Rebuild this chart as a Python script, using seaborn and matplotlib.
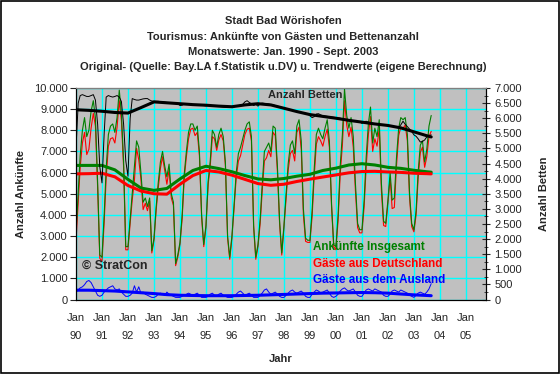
import numpy as np
import pandas as pd
import seaborn as sns
import matplotlib.pyplot as plt
import matplotlib.dates as mdates
from matplotlib.ticker import FuncFormatter, MultipleLocator
from matplotlib.patches import Rectangle

sns.set_style("white")
plt.rcParams['font.family'] = ['Liberation Sans', 'DejaVu Sans']

# Monatswerte Jan. 1990 - Sept. 2003
months = pd.date_range("1990-01-01", "2003-09-01", freq="MS")

insgesamt = [
    3100, 5000, 6800, 8000, 8600, 7700, 8000, 8900, 9400, 8600, 5500, 2100,
    2000, 4000, 6200, 7800, 8200, 8300, 7900, 8600, 9900, 8800, 6500, 2500,
    2500, 3800, 5000, 6300, 7500, 7200, 6000, 4600, 4800, 4400, 4800, 2300,
    2900, 4400, 5500, 6500, 7000, 6300, 5800, 6400, 5000, 4600, 1700, 2100,
    2700, 4000, 5900, 7000, 7900, 8300, 8300, 8000, 8200, 7000, 4000, 2600,
    3500, 5600, 6500, 8000, 7800, 7200, 7800, 8100, 7700, 6500, 3000, 2000,
    3000, 4500, 6000, 6900, 7200, 7600, 8000, 8300, 8400, 7700, 3500, 2000,
    2600, 3800, 5400, 7000, 7200, 7400, 7000, 8200, 8100, 6300, 3700, 2200,
    3500, 5000, 6400, 7300, 7500, 6900, 8200, 8500, 7500, 4300, 2900, 2800,
    2800, 4200, 6100, 7800, 8100, 7800, 7600, 8100, 8500, 7500, 4500, 2600,
    2500, 4000, 6300, 7800, 9950, 8700, 8100, 8600, 7700, 5500, 3600, 3300,
    3300, 4700, 6700, 8300, 9100, 7400, 8100, 7700, 8500, 5500, 3700, 3600,
    4700, 6000, 4700, 4800, 6700, 8100, 8600, 8500, 8600, 7800, 5000, 3600,
    3300, 4200, 6000, 7300, 7500, 6500, 7100, 8200, 8700,
]
deutschland = [
    2750, 4550, 6250, 7400, 7900, 6850, 7100, 8100, 8800, 8200, 5300, 1950,
    1800, 3650, 5750, 7250, 7600, 7650, 7400, 8150, 9400, 8450, 6250, 2350,
    2350, 3600, 4700, 5650, 7150, 6600, 5700, 4250, 4550, 4200, 4650, 2200,
    2800, 4250, 5250, 6200, 6750, 6100, 5450, 6150, 4800, 4450, 1600, 2000,
    2600, 3850, 5700, 6750, 7600, 8050, 8100, 7750, 7900, 6800, 3900, 2500,
    3400, 5450, 6250, 7700, 7600, 7050, 7550, 7800, 7500, 6350, 2900, 1900,
    2900, 4350, 5750, 6550, 6800, 7300, 7800, 8050, 8100, 7500, 3400, 1900,
    2500, 3600, 5100, 6550, 6700, 7050, 6750, 7900, 7750, 6050, 3550, 2100,
    3400, 4800, 6100, 6900, 7050, 6550, 7900, 8150, 7100, 4000, 2750, 2700,
    2700, 3950, 5750, 7350, 7700, 7500, 7250, 7700, 8050, 7200, 4350, 2500,
    2350, 3750, 5900, 7300, 9400, 8250, 7700, 8150, 7200, 5150, 3400, 3150,
    3150, 4400, 6250, 7800, 8650, 7000, 7600, 7250, 8100, 5150, 3500, 3450,
    4550, 5750, 4300, 4350, 6300, 7750, 8150, 8100, 8250, 7500, 4800, 3450,
    3200, 4000, 5700, 6950, 7200, 6250, 6750, 7700, 7950,
]
ausland = [
    350, 450, 550, 600, 700, 850, 900, 800, 600, 400, 200, 150,
    200, 350, 450, 550, 600, 650, 500, 450, 500, 350, 250, 150,
    150, 200, 300, 650, 350, 600, 300, 350, 250, 200, 150, 100,
    100, 150, 250, 300, 250, 200, 350, 250, 200, 150, 100, 100,
    100, 150, 200, 250, 300, 250, 200, 250, 300, 200, 100, 100,
    100, 150, 250, 300, 200, 150, 250, 300, 200, 150, 100, 100,
    100, 150, 250, 350, 400, 300, 200, 250, 300, 200, 100, 100,
    100, 200, 300, 450, 500, 350, 250, 300, 350, 250, 150, 100,
    100, 200, 300, 400, 450, 350, 300, 350, 400, 300, 150, 100,
    100, 250, 350, 450, 400, 300, 350, 400, 450, 300, 150, 100,
    150, 250, 400, 500, 550, 450, 400, 450, 500, 350, 200, 150,
    150, 300, 450, 500, 450, 400, 500, 450, 400, 350, 200, 150,
    150, 250, 400, 450, 400, 350, 450, 400, 350, 300, 200, 150,
    100, 200, 300, 350, 300, 250, 350, 500, 750,
]
betten = [
    5000, 6500, 6750, 6780, 6750, 6720, 6720, 6750, 6780, 6600, 5800, 4400,
    3860, 5500, 6700, 6750, 6720, 6700, 6720, 6750, 6700, 6550, 5800, 4600,
    4080, 6000, 6650, 6620, 6600, 6600, 6620, 6640, 6650, 6650, 6600, 6570,
    6560, 6560, 6560, 6550, 6540, 6530, 6520, 6510, 6500, 6500, 6480, 6480,
    6420, 6430, 6470, 6480, 6470, 6460, 6450, 6450, 6440, 6440, 6430, 6420,
    6410, 6420, 6430, 6420, 6410, 6400, 6390, 6380, 6370, 6360, 6360, 6360,
    6370, 6380, 6400, 6420, 6440, 6460, 6540, 6580, 6520, 6480, 6420, 6460,
    6400, 6480, 6500, 6490, 6480, 6470, 6450, 6440, 6420, 6400, 6380, 6360,
    6340, 6320, 6300, 6280, 6260, 6240, 6230, 6210, 6190, 6170, 6160, 6150,
    6080, 6020, 6050, 6140, 6150, 6110, 6080, 6070, 6060, 6050, 6040, 6030,
    6020, 6010, 6000, 5980, 5960, 5940, 5930, 5920, 5910, 5900, 5890, 5880,
    5830, 5880, 5900, 5870, 5850, 5830, 5810, 5800, 5790, 5780, 5770, 5760,
    5750, 5740, 5730, 5720, 5710, 5700, 5780, 5900, 5800, 5720, 5640, 5560,
    5450, 5400, 5320, 5210, 5230, 5280, 5380, 5420, 5450,
]

# Trendwerte, jeweils Jan./Jul. und Sept. 2003
trend_dates = pd.to_datetime([f"{y}-{m:02d}-01" for y in range(1990, 2004) for m in (1, 7)] + ["2003-09-01"])
trend_insgesamt = [6340, 6340, 6340, 6130, 5680, 5270, 5160, 5250, 5700, 6100, 6300, 6190, 6040, 5860,
                   5700, 5660, 5720, 5830, 5920, 6100, 6210, 6360, 6420, 6360, 6250, 6200, 6110, 6040, 6020]
trend_deutschland = [5940, 5950, 5970, 5800, 5390, 5130, 5000, 4980, 5450, 5860, 6100, 6030, 5880, 5680,
                     5480, 5400, 5450, 5580, 5690, 5790, 5890, 5990, 6050, 6060, 6030, 6010, 5970, 5950, 5940]
trend_ausland = [440, 440, 420, 400, 360, 320, 280, 230, 200, 190, 180, 180, 180, 190,
                 200, 220, 240, 260, 280, 300, 310, 320, 330, 320, 300, 260, 220, 190, 180]
trend_betten = [6280, 6260, 6230, 6190, 6170, 6350, 6540, 6510, 6480, 6450, 6430, 6400, 6380, 6440,
                6480, 6440, 6330, 6220, 6120, 6060, 6000, 5930, 5870, 5810, 5760, 5680, 5550, 5420, 5380]

df = pd.DataFrame({"Monat": months, "Insgesamt": insgesamt, "Deutschland": deutschland,
                   "Ausland": ausland, "Betten": betten})
tr = pd.DataFrame({"Monat": trend_dates, "Insgesamt": trend_insgesamt, "Deutschland": trend_deutschland,
                   "Ausland": trend_ausland, "Betten": trend_betten})

W, H = 560, 374
fig = plt.figure(figsize=(W / 100, H / 100), dpi=100)
fig.patch.set_facecolor("white")
L, R, T, B = 76, 486, 88, 299.5
ax = fig.add_axes([L / W, 1 - B / H, (R - L) / W, (B - T) / H])
ax.set_facecolor("#C0C0C0")
ax2 = ax.twinx()

green, red, blue = "#008000", "#FF0000", "#0000FF"
thin, thick = 0.8, 2.2

sns.lineplot(data=df, x="Monat", y="Deutschland", ax=ax, color=red, linewidth=thin)
sns.lineplot(data=df, x="Monat", y="Insgesamt", ax=ax, color=green, linewidth=thin)
sns.lineplot(data=df, x="Monat", y="Ausland", ax=ax, color=blue, linewidth=0.7)
sns.lineplot(data=tr, x="Monat", y="Insgesamt", ax=ax, color=green, linewidth=thick)
sns.lineplot(data=tr, x="Monat", y="Deutschland", ax=ax, color=red, linewidth=thick)
sns.lineplot(data=tr, x="Monat", y="Ausland", ax=ax, color=blue, linewidth=thick)
sns.lineplot(data=df, x="Monat", y="Betten", ax=ax2, color="black", linewidth=0.7)
sns.lineplot(data=tr, x="Monat", y="Betten", ax=ax2, color="black", linewidth=thick)

ax.set_xlim(pd.Timestamp("1990-01-01"), pd.Timestamp("2005-10-10"))
ax.set_ylim(0, 10000)
ax2.set_ylim(0, 7000)

thousands = FuncFormatter(lambda v, p: f"{int(round(v)):,}".replace(",", "."))
ax.yaxis.set_major_locator(MultipleLocator(1000))
ax.yaxis.set_major_formatter(thousands)
ax2.yaxis.set_major_locator(MultipleLocator(500))
ax2.yaxis.set_minor_locator(MultipleLocator(250))
ax2.yaxis.set_major_formatter(thousands)

ax.xaxis.set_major_locator(mdates.YearLocator())
ax.xaxis.set_minor_locator(mdates.MonthLocator())
ax.xaxis.set_major_formatter(mdates.DateFormatter("%b\n%y"))

ax.grid(True, which="major", color="#00FFFF", linewidth=1)
ax.set_axisbelow(True)

fs = 8
ax.tick_params(axis="y", direction="out", length=4, width=0.8, labelsize=fs, pad=2)
ax.tick_params(axis="x", which="major", direction="out", length=4, width=0.8, labelsize=fs, pad=6)
ax.tick_params(axis="x", which="minor", direction="out", length=2, width=0.6)
ax2.tick_params(axis="y", which="major", direction="inout", length=6, width=0.8, labelsize=fs, pad=3)
ax2.tick_params(axis="y", which="minor", direction="inout", length=3, width=0.6)
for lab in ax.get_xticklabels():
    lab.set_linespacing(1.9)

for a in (ax, ax2):
    for s in a.spines.values():
        s.set_color("black")
        s.set_linewidth(0.8)
ax2.spines["top"].set_color("#808080")

ax.set_xlabel("Jahr", fontsize=fs, fontweight="bold", labelpad=10)
ax.set_ylabel("Anzahl Ankünfte", fontsize=fs, fontweight="bold", labelpad=6)
ax2.set_ylabel("Anzahl Betten", fontsize=fs, fontweight="bold", labelpad=12)

titles = ["Stadt Bad Wörishofen", "Tourismus: Ankünfte von Gästen und Bettenanzahl",
          "Monatswerte: Jan. 1990 - Sept. 2003",
          "Original- (Quelle: Bay.LA f.Statistik u.DV) u. Trendwerte (eigene Berechnung)"]
for i, t in enumerate(titles):
    fig.text(283 / W, 1 - (21 + 15.5 * i) / H, t, ha="center", va="center", fontsize=8, fontweight="bold")

fig.text(268 / W, 1 - 95 / H, "Anzahl Betten", ha="left", va="center", fontsize=fs, fontweight="bold")
fig.text(313 / W, 1 - 247 / H, "Ankünfte Insgesamt", ha="left", va="center", fontsize=8.4, fontweight="bold", color=green)
fig.text(313 / W, 1 - 264 / H, "Gäste aus Deutschland", ha="left", va="center", fontsize=8.4, fontweight="bold", color=red)
fig.text(313 / W, 1 - 280 / H, "Gäste aus dem Ausland", ha="left", va="center", fontsize=8.4, fontweight="bold", color=blue)
fig.text(82 / W, 1 - 266 / H, "© StratCon", ha="left", va="center", fontsize=9, fontweight="bold")

fig.patches.append(Rectangle((0.001, 0.002), 0.997, 0.996, transform=fig.transFigure,
                             fill=False, edgecolor="black", linewidth=1.2))

fig.savefig("out.png", dpi=100)
